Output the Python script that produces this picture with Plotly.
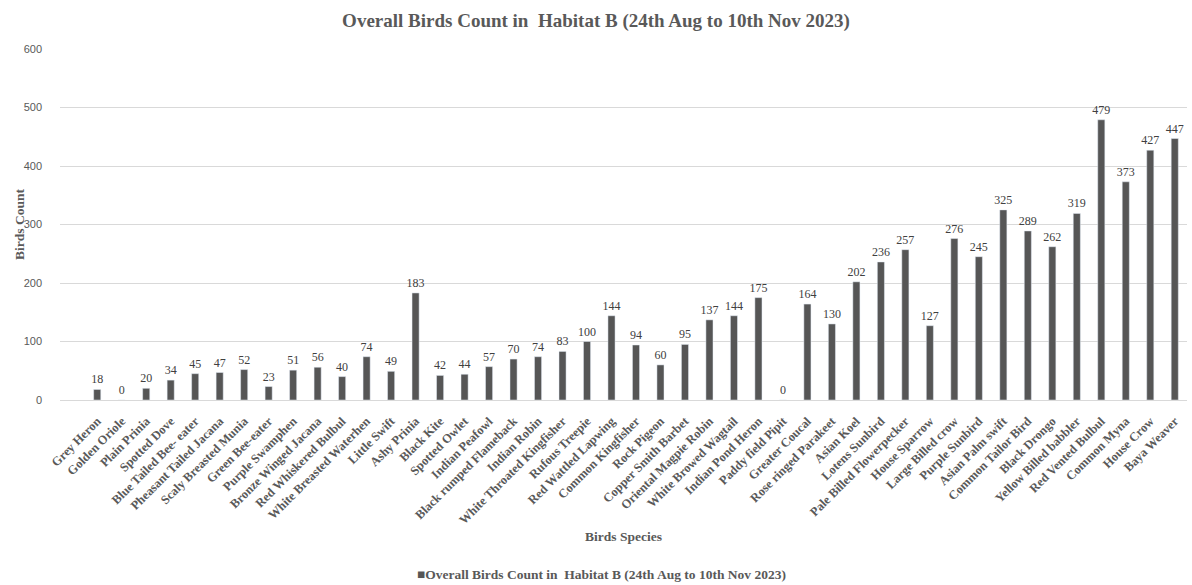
import plotly.graph_objects as go

species = ["Grey Heron", "Golden Oriole", "Plain Prinia", "Spotted Dove", "Blue Tailed Bee- eater",
           "Pheasant Tailed Jacana", "Scaly Breasted Munia", "Green Bee-eater", "Purple Swamphen",
           "Bronze Winged Jacana", "Red Whiskered Bulbul", "White Breasted Waterhen", "Little Swift",
           "Ashy Prinia", "Black Kite", "Spotted Owlet", "Indian Peafowl", "Black rumped Flameback",
           "Indian Robin", "White Throated Kingfisher", "Rufous Treepie", "Red Wattled Lapwing",
           "Common Kingfisher", "Rock Pigeon", "Copper Smith Barbet", "Oriental Magpie Robin",
           "White Browed Wagtail", "Indian Pond Heron", "Paddy field Pipit", "Greater Coucal",
           "Rose ringed Parakeet", "Asian Koel", "Lotens Sunbird", "Pale Billed Flowerpecker",
           "House Sparrow", "Large Billed crow", "Purple Sunbird", "Asian Palm swift",
           "Common Tailor Bird", "Black Drongo", "Yellow Billed babbler", "Red Vented Bulbul",
           "Common Myna", "House Crow", "Baya Weaver"]
counts = [18, 0, 20, 34, 45, 47, 52, 23, 51, 56, 40, 74, 49, 183, 42, 44, 57, 70, 74, 83, 100, 144,
          94, 60, 95, 137, 144, 175, 0, 164, 130, 202, 236, 257, 127, 276, 245, 325, 289, 262, 319,
          479, 373, 427, 447]
series_name = "Overall Birds Count in  Habitat B (24th Aug to 10th Nov 2023)"
y_ticks = [0, 100, 200, 300, 400, 500, 600]

serif = "Liberation Serif, Times New Roman, serif"
sans = "Liberation Sans, Arial, sans-serif"

fig = go.Figure()
fig.add_trace(go.Bar(
    x=species, y=counts, name=series_name,
    marker=dict(color="#565656"),
    text=[str(c) for c in counts], textposition="outside", cliponaxis=False,
    textfont=dict(family=serif, size=12, color="#404040"),
    showlegend=False,
))

fig.update_layout(
    width=1192, height=585,
    margin=dict(l=60, r=5, t=49, b=185),
    plot_bgcolor="white", paper_bgcolor="white",
    bargap=0.71,
    uniformtext=dict(minsize=12, mode="show"),
    title=dict(text="<b>" + series_name + "</b>", x=0.5, xanchor="center", y=0.965, yanchor="middle",
               font=dict(family=serif, size=19, color="#595959")),
    xaxis=dict(
        type="category", range=[-1.52, 44.5], tickangle=-45,
        tickfont=dict(family=serif, size=12.5, color="#595959", weight="bold"),
        showgrid=False, showline=True, linecolor="#d9d9d9", linewidth=1, ticks="",
        ticklabelstandoff=8, automargin=False,
    ),
    yaxis=dict(
        range=[0, 600], tickvals=y_ticks, showgrid=True, gridcolor="#d9d9d9", gridwidth=1,
        zeroline=False, showline=False, ticks="", ticklabelstandoff=17,
        tickfont=dict(family=sans, size=11, color="#595959"),
        automargin=False,
    ),
    annotations=[
        dict(text="<b>Birds Species</b>", xref="paper", yref="paper", x=0.5, y=(400 - 536) / 351,
             xanchor="center", yanchor="middle", showarrow=False,
             font=dict(family=serif, size=13.5, color="#595959")),
        dict(text="<b>Birds Count</b>", xref="paper", yref="paper", x=(20 - 60) / 1127, y=(400 - 225) / 351,
             xanchor="center", yanchor="middle", showarrow=False, textangle=-90,
             font=dict(family=serif, size=13.5, color="#595959")),
        dict(text="<span style='color:#565656'>■</span><b>" + series_name + "</b>", xref="paper", yref="paper",
             x=(601 - 60) / 1127, y=(400 - 574) / 351, xanchor="center", yanchor="middle", showarrow=False,
             font=dict(family=serif, size=13.5, color="#595959")),
    ],
)

fig.write_html("out.html")
